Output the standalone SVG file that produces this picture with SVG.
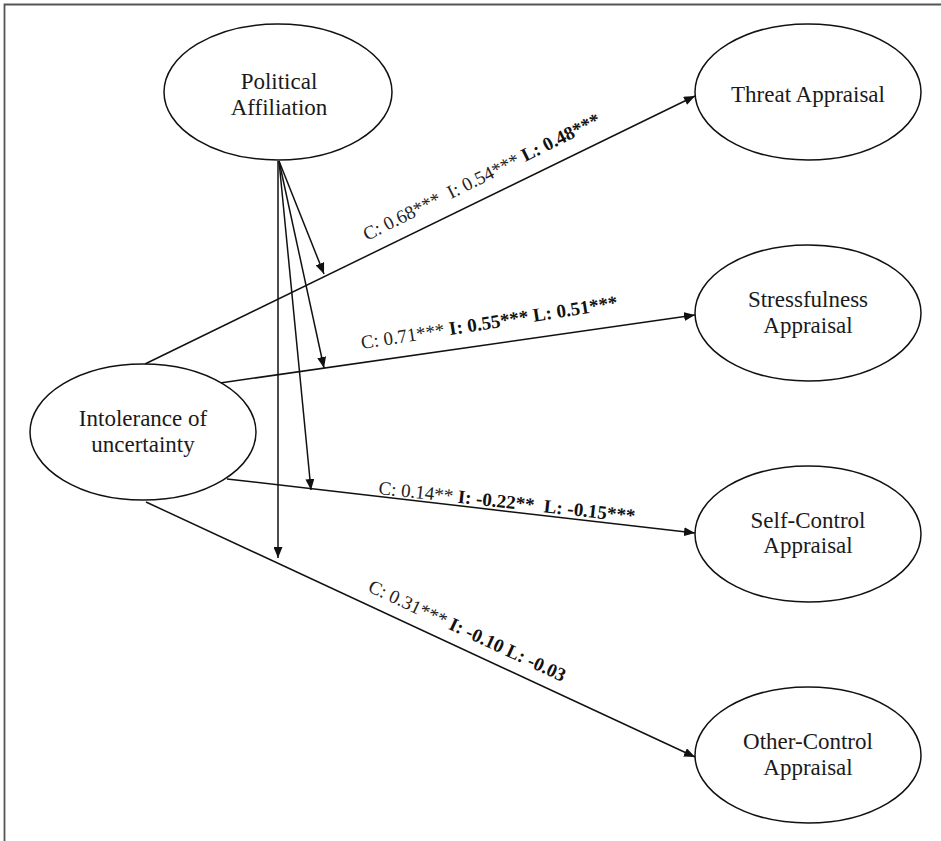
<svg xmlns="http://www.w3.org/2000/svg" width="941" height="841" viewBox="0 0 941 841">
<style>
.node ellipse{fill:#fff;stroke:#111;stroke-width:1.5}
.nt{font-family:"Liberation Serif","Times New Roman",serif;font-size:23px;fill:#1a1a1a;text-anchor:middle}
.edge{stroke:#111;stroke-width:1.5;fill:none;marker-end:url(#ah)}
.lbl{font-family:"Liberation Serif","Times New Roman",serif;font-size:19px;fill:#222;white-space:pre}
.b{font-weight:bold;fill:#111}
</style>
<defs>
<marker id="ah" markerUnits="userSpaceOnUse" markerWidth="11" markerHeight="9" refX="11" refY="4.5" orient="auto">
<path d="M0,0 L11,4.5 L0,9 z" fill="#111"/>
</marker>
</defs>
<rect width="941" height="841" fill="#fff"/>
<path d="M4.5,841 V4.5 H941" fill="none" stroke="#555" stroke-width="1.8"/>

<g id="connectors">
<line class="edge" x1="145" y1="364" x2="695" y2="96"/>
<line class="edge" x1="220" y1="383" x2="695" y2="315"/>
<line class="edge" x1="227" y1="479" x2="695" y2="533"/>
<line class="edge" x1="146" y1="502" x2="695" y2="757"/>
<line class="edge" x1="279" y1="161" x2="324" y2="274"/>
<line class="edge" x1="279" y1="161" x2="324" y2="368"/>
<line class="edge" x1="279" y1="161" x2="311" y2="490"/>
<line class="edge" x1="278" y1="161" x2="278" y2="558"/>
</g>

<g id="labels">
<text class="lbl" xml:space="preserve" transform="translate(367,241) rotate(-26.5)" font-size="19.5">C: 0.68***  I: 0.54*** <tspan class="b">L: 0.48***</tspan></text>
<text class="lbl" xml:space="preserve" transform="translate(362,349) rotate(-9)">C: 0.71*** <tspan class="b">I: 0.55*** L: 0.51***</tspan></text>
<text class="lbl" xml:space="preserve" transform="translate(378,494) rotate(6.3)">C: 0.14** <tspan class="b">I: -0.22**  L: -0.15***</tspan></text>
<text class="lbl" xml:space="preserve" transform="translate(367,591) rotate(25)">C: 0.31*** <tspan class="b">I: -0.10 L: -0.03</tspan></text>
</g>

<g id="political" class="node">
<ellipse cx="278" cy="92" rx="114" ry="68"/>
<text class="nt" x="279" y="89">Political</text>
<text class="nt" x="279" y="115">Affiliation</text>
</g>
<g id="intolerance" class="node">
<ellipse cx="143" cy="432" rx="113" ry="68"/>
<text class="nt" x="143" y="426">Intolerance of</text>
<text class="nt" x="143" y="452">uncertainty</text>
</g>
<g id="threat" class="node">
<ellipse cx="808" cy="92" rx="113" ry="68"/>
<text class="nt" x="808" y="102">Threat Appraisal</text>
</g>
<g id="stress" class="node">
<ellipse cx="808" cy="313" rx="113" ry="68"/>
<text class="nt" x="808" y="307">Stressfulness</text>
<text class="nt" x="808" y="333">Appraisal</text>
</g>
<g id="selfcontrol" class="node">
<ellipse cx="808" cy="534" rx="113" ry="68"/>
<text class="nt" x="808" y="528">Self-Control</text>
<text class="nt" x="808" y="553">Appraisal</text>
</g>
<g id="othercontrol" class="node">
<ellipse cx="808" cy="755" rx="113" ry="68"/>
<text class="nt" x="808" y="749">Other-Control</text>
<text class="nt" x="808" y="775">Appraisal</text>
</g>
</svg>
